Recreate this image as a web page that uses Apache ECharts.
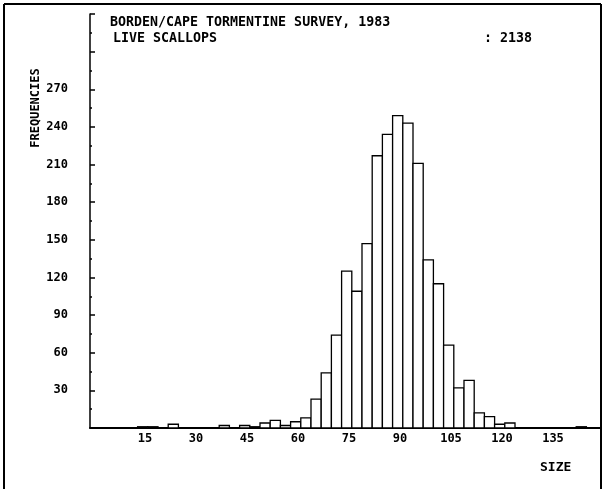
<!DOCTYPE html>
<html>
<head>
<meta charset="utf-8">
<script src="https://cdn.jsdelivr.net/npm/echarts@6/dist/echarts.min.js"></script>
<style>
html,body{margin:0;padding:0;background:#fff;}
#c{width:603px;height:489px;}
</style>
</head>
<body>
<div id="c"></div>
<script>
// ---- data ----
const titleLine1 = 'BORDEN/CAPE TORMENTINE SURVEY, 1983';
const titleLine2 = 'LIVE SCALLOPS';
const countText = ': 2138';
const yAxisName = 'FREQUENCIES';
const xAxisName = 'SIZE';
const binWidth = 3;
const binStarts = [14, 17, 23, 38, 44, 47, 50, 53, 56, 59, 62, 65, 68, 71, 74, 77, 80, 83, 86, 89, 92, 95, 98, 101, 104, 107, 110, 113, 116, 119, 122, 143];
const freqs     = [1, 1, 3, 2, 2, 1, 4, 6, 2, 5, 8, 23, 44, 74, 125, 109, 147, 217, 234, 249, 243, 211, 134, 115, 66, 32, 38, 12, 9, 3, 4, 1];
const yTickLabels = [30, 60, 90, 120, 150, 180, 210, 240, 270];
const xTickLabels = [15, 30, 45, 60, 75, 90, 105, 120, 135];

const FONT = 'DejaVu Sans Mono';
const data = binStarts.map((s, i) => [s, s + binWidth, freqs[i]]);

const chart = echarts.init(document.getElementById('c'), null, {renderer: 'canvas'});
chart.setOption({
  animation: false,
  backgroundColor: '#fff',
  grid: {left: 90, right: 2, top: 14, bottom: 61},
  xAxis: {
    type: 'value', min: 0, max: 150, interval: 15,
    axisLine: {show: true, lineStyle: {color: '#000', width: 2}},
    axisTick: {show: false},
    splitLine: {show: false},
    axisLabel: {
      margin: 5, color: '#000', fontFamily: FONT, fontSize: 12, fontWeight: 'bold',
      padding: [0, 0, 0, 8],
      formatter: v => xTickLabels.indexOf(v) >= 0 ? String(v) : ''
    }
  },
  yAxis: {
    type: 'value', min: 0, max: 330, interval: 30,
    axisLine: {show: true, lineStyle: {color: '#000', width: 1.5}},
    axisTick: {show: true, inside: true, length: 5, lineStyle: {color: '#000', width: 1.5}},
    minorTick: {show: true, splitNumber: 2, length: 2, lineStyle: {color: '#000', width: 1.5}},
    splitLine: {show: false},
    axisLabel: {
      margin: 22, color: '#000', fontFamily: FONT, fontSize: 12, fontWeight: 'bold',
      formatter: v => yTickLabels.indexOf(v) >= 0 ? String(v) : ''
    }
  },
  series: [{
    type: 'custom',
    data: data,
    encode: {x: [0, 1], y: 2},
    renderItem: function (params, api) {
      const p0 = api.coord([api.value(0), api.value(2)]);
      const p1 = api.coord([api.value(1), 0]);
      return {
        type: 'rect',
        shape: {x: p0[0], y: p0[1], width: p1[0] - p0[0], height: p1[1] - p0[1]},
        style: {fill: '#fff', stroke: '#000', lineWidth: 1.3}
      };
    }
  }],
  graphic: [
    {type: 'line', shape: {x1: 4, y1: 4, x2: 601, y2: 4}, style: {stroke: '#000', lineWidth: 2}},
    {type: 'line', shape: {x1: 4, y1: 4, x2: 4, y2: 489}, style: {stroke: '#000', lineWidth: 2}},
    {type: 'line', shape: {x1: 601, y1: 4, x2: 601, y2: 489}, style: {stroke: '#000', lineWidth: 2}},
    {type: 'text', left: 110, top: 16, style: {text: titleLine1, font: 'bold 13.3px ' + FONT, fill: '#000'}},
    {type: 'text', left: 113, top: 32, style: {text: titleLine2, font: 'bold 13.3px ' + FONT, fill: '#000'}},
    {type: 'text', left: 484, top: 32, style: {text: countText, font: 'bold 13.3px ' + FONT, fill: '#000'}},
    {type: 'text', x: 36, y: 108, rotation: Math.PI / 2,
      style: {text: yAxisName, font: 'bold 12px ' + FONT, fill: '#000', align: 'center', verticalAlign: 'middle'}},
    {type: 'text', left: 540, top: 461, style: {text: xAxisName, font: 'bold 13px ' + FONT, fill: '#000'}}
  ]
});
</script>
</body>
</html>
